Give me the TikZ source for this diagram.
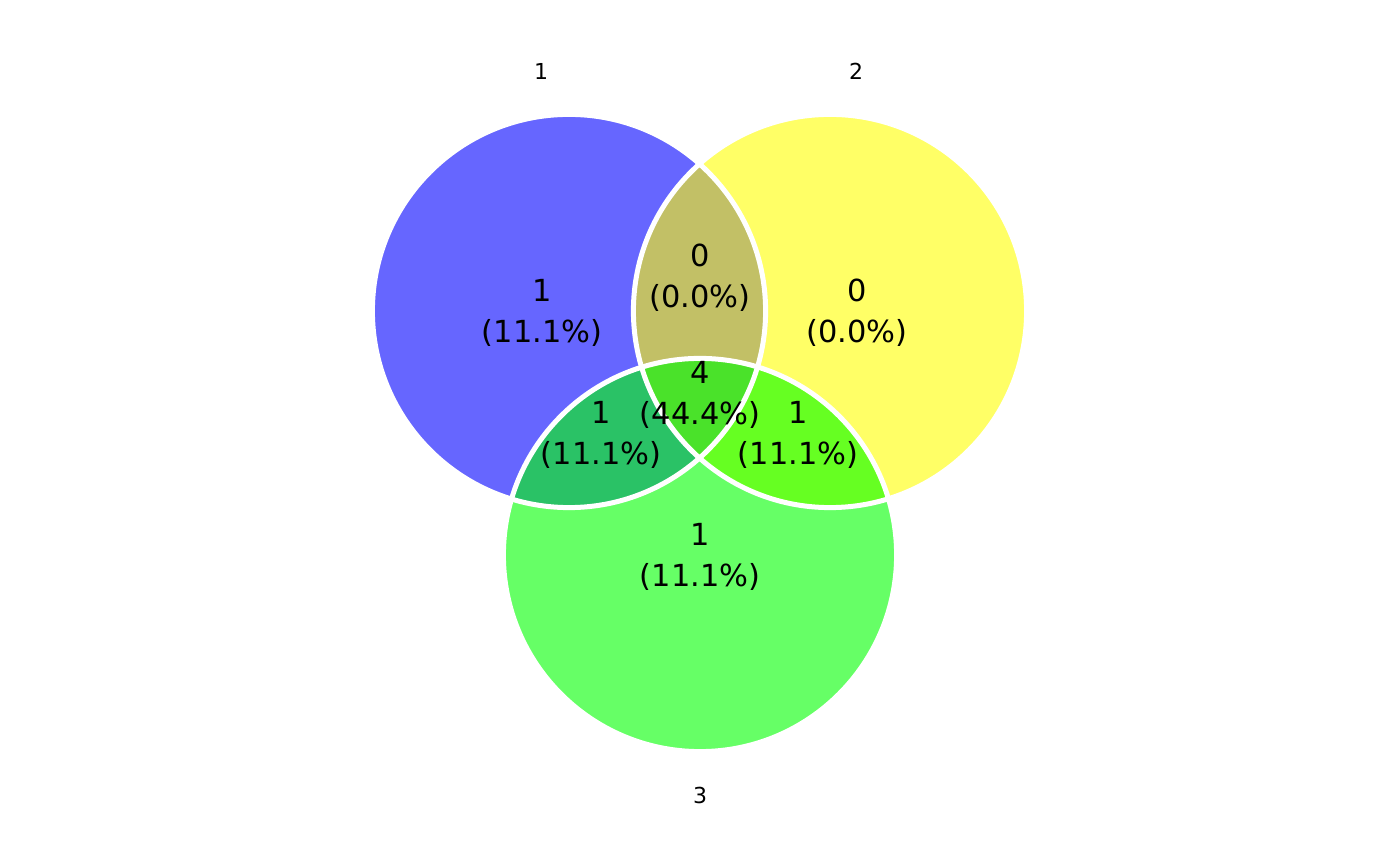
\documentclass[tikz,border=0pt]{standalone}
\usepackage{fontspec}
\setmainfont{DejaVu Sans}
\definecolor{cA}{HTML}{6666FF}
\definecolor{cB}{HTML}{FFFF66}
\definecolor{cC}{HTML}{66FF66}
\definecolor{cAB}{HTML}{C2C066}
\definecolor{cAC}{HTML}{2AC266}
\definecolor{cBC}{HTML}{66FF22}
\definecolor{cABC}{HTML}{4AE22A}
\tikzset{
  big/.style={font=\fontsize{15.2}{18}\selectfont, inner sep=0pt},
  small/.style={font=\fontsize{11}{13}\selectfont, inner sep=0pt},
  rim/.style={draw=white, line width=2.5pt}
}
\begin{document}
\begin{tikzpicture}[x=0.5pt,y=0.5pt]
\useasboundingbox (0,0) rectangle (1400,866);
\def\R{98.3pt}
\coordinate (c1) at (569,555);
\coordinate (c2) at (830,555);
\coordinate (c3) at (700,311);
\fill[cA] (c1) circle[radius=\R];
\fill[cB] (c2) circle[radius=\R];
\fill[cC] (c3) circle[radius=\R];
\begin{scope}
  \clip (c1) circle[radius=\R];
  \fill[cAB] (c2) circle[radius=\R];
  \fill[cAC] (c3) circle[radius=\R];
\end{scope}
\begin{scope}
  \clip (c2) circle[radius=\R];
  \fill[cBC] (c3) circle[radius=\R];
  \clip (c1) circle[radius=\R];
  \fill[cABC] (c3) circle[radius=\R];
\end{scope}
\draw[rim] (c1) circle[radius=\R];
\draw[rim] (c2) circle[radius=\R];
\draw[rim] (c3) circle[radius=\R];
\node[small] (l1) at (541,795) {1};
\node[small] (l2) at (856,795) {2};
\node[small] (l3) at (700,71) {3};
\node[big] (a1) at (542,576) {1};
\node[big] (a2) at (542,533) {(11.1\%)};
\node[big] (ab1) at (700,611) {0};
\node[big] (ab2) at (700,568) {(0.0\%)};
\node[big] (b1) at (857,576) {0};
\node[big] (b2) at (857,533) {(0.0\%)};
\node[big] (abc1) at (700,494) {4};
\node[big] (abc2) at (700,451) {(44.4\%)};
\node[big] (ac1) at (601,454) {1};
\node[big] (ac2) at (601,411) {(11.1\%)};
\node[big] (bc1) at (798,454) {1};
\node[big] (bc2) at (798,411) {(11.1\%)};
\node[big] (c1t) at (700,332) {1};
\node[big] (c2t) at (700,289) {(11.1\%)};
\end{tikzpicture}
\end{document}
